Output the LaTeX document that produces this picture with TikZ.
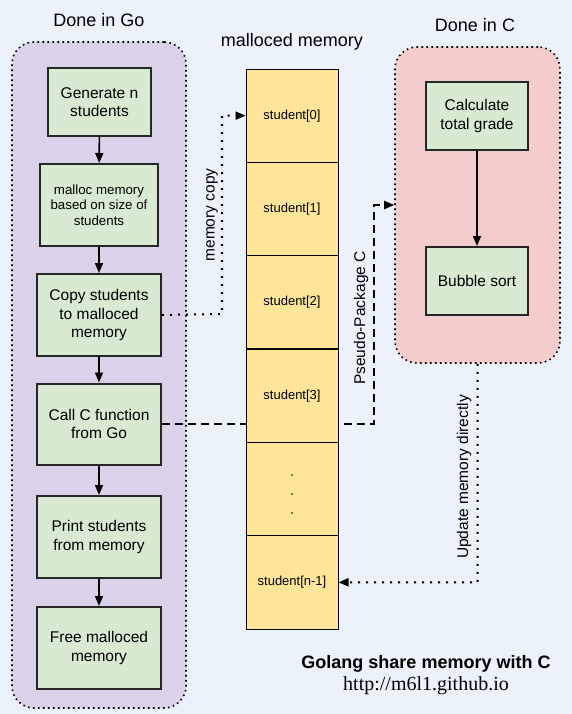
\documentclass[tikz,border=0pt]{standalone}
\usepackage{fontspec}
\setmainfont{Liberation Sans}
\newfontfamily\urlfont{Liberation Serif}
\usetikzlibrary{arrows.meta}
\definecolor{bgc}{HTML}{EBF2FB}
\definecolor{gocol}{HTML}{D9D2E9}
\definecolor{ccol}{HTML}{F4CCCC}
\definecolor{stepcol}{HTML}{D9EAD3}
\definecolor{memcol}{HTML}{FFE599}
\pgfdeclarelayer{bgl}
\pgfdeclarelayer{conn}
\pgfsetlayers{bgl,conn,main}
\tikzset{
  container/.style={fill=#1, draw=black, line width=1.6pt, dash pattern=on 1.6pt off 3.4pt, rounded corners=22pt, inner sep=0pt},
  stepbox/.style={fill=stepcol, draw=black!85, line width=2pt, align=center, inner sep=2pt, font=\fontsize{15.5}{18.5}\selectfont},
  cell/.style={fill=memcol, draw=black, line width=1pt, minimum width=92pt, minimum height=93.33pt, inner sep=0pt, font=\fontsize{13}{15}\selectfont},
  flow/.style={draw=black, line width=1.6pt, -{Triangle[length=10pt,width=8pt]}},
  dotline/.style={draw=black, line width=2pt, dash pattern=on 2pt off 6pt, -{Triangle[length=10pt,width=8pt]}},
  dashline/.style={draw=black, line width=2pt, dash pattern=on 8pt off 5pt, -{Triangle[length=10pt,width=8pt]}},
  title/.style={font=\fontsize{18}{20}\selectfont, anchor=base},
  vlabel/.style={rotate=90, font=\fontsize{15.5}{18}\selectfont, inner sep=0pt}
}
\begin{document}
\begin{tikzpicture}[x=1pt,y=-1pt]
\begin{pgfonlayer}{bgl}
\fill[bgc] (0,0) rectangle (572,714);
\node[container=gocol, minimum width=174pt, minimum height=666pt] (Go) at (99,375) {};
\node[container=ccol, minimum width=165pt, minimum height=316pt] (Cbox) at (477.5,205) {};
\end{pgfonlayer}
\useasboundingbox (0,0) rectangle (572,714);

% titles
\node[title] (tgo) at (99,27) {Done in Go};
\node[title] (tc) at (475,31.5) {Done in C};
\node[title] (tmem) at (292,47) {malloced memory};

\coordinate (mc) at (222,314);
\coordinate (pk) at (374,205);
\coordinate (up) at (477.5,582.3);

% memory cells
\node[cell] (m0) at (292,115.67) {student[0]};
\node[cell] (m1) at (292,209) {student[1]};
\node[cell] (m2) at (292,302.33) {student[2]};
\node[cell] (m3) at (292,395.67) {student[3]};
\node[cell] (m4) at (292,489) {};
\node[cell] (mn) at (292,582.33) {student[n-1]};

% go steps
\node[stepbox, minimum width=103pt, minimum height=68pt] (g1) at (99.5,102) {Generate n\\students};
\node[stepbox, minimum width=118pt, minimum height=82pt, font=\fontsize{13.3}{15.5}\selectfont] (g2) at (99,205) {malloc memory\\based on size of\\students};
\node[stepbox, minimum width=124pt, minimum height=82pt] (g3) at (99,315) {Copy students\\to malloced\\memory};
\node[stepbox, minimum width=124pt, minimum height=81pt] (g4) at (99,424) {Call C function\\from Go};
\node[stepbox, minimum width=124pt, minimum height=82pt] (g5) at (99,537) {Print students\\from memory};
\node[stepbox, minimum width=124pt, minimum height=82pt] (g6) at (99,648) {Free malloced\\memory};

% c steps
\node[stepbox, minimum width=102pt, minimum height=68pt] (c1) at (477,116) {Calculate\\total grade};
\node[stepbox, minimum width=102pt, minimum height=68pt] (c2) at (477,281) {Bubble sort};

% flow arrows
\draw[flow] (g1) -- (g2);
\draw[flow] (g2) -- (g3);
\draw[flow] (g3) -- (g4);
\draw[flow] (g4) -- (g5);
\draw[flow] (g5) -- (g6);
\draw[flow] (c1) -- (c2);

% cross connectors
\begin{pgfonlayer}{conn}
\draw[dotline] (g3.east) -- (mc) |- (m0.west);
\draw[dotline] (Cbox.south) -- (up) -- (mn.east);
\draw[dashline] (g4.east) -| (pk) -- (Cbox.west);
\end{pgfonlayer}

% dots in cell
\fill (292,475) circle (0.9pt);
\fill (292,494) circle (0.9pt);
\fill (292,513) circle (0.9pt);

% labels
\node[vlabel] (lmc) at (212,215) {memory copy};
\node[vlabel] (lpk) at (361,318) {Pseudo-Package C};
\node[vlabel] (lup) at (464,477) {Update memory directly};

% footer
\node[anchor=base, font=\fontsize{18}{20}\selectfont\bfseries] (ft) at (426,668) {Golang share memory with C};
\node[anchor=base, font=\fontsize{20}{22}\selectfont\urlfont] (url) at (426,690) {http://m6l1.github.io};
\end{tikzpicture}
\end{document}
